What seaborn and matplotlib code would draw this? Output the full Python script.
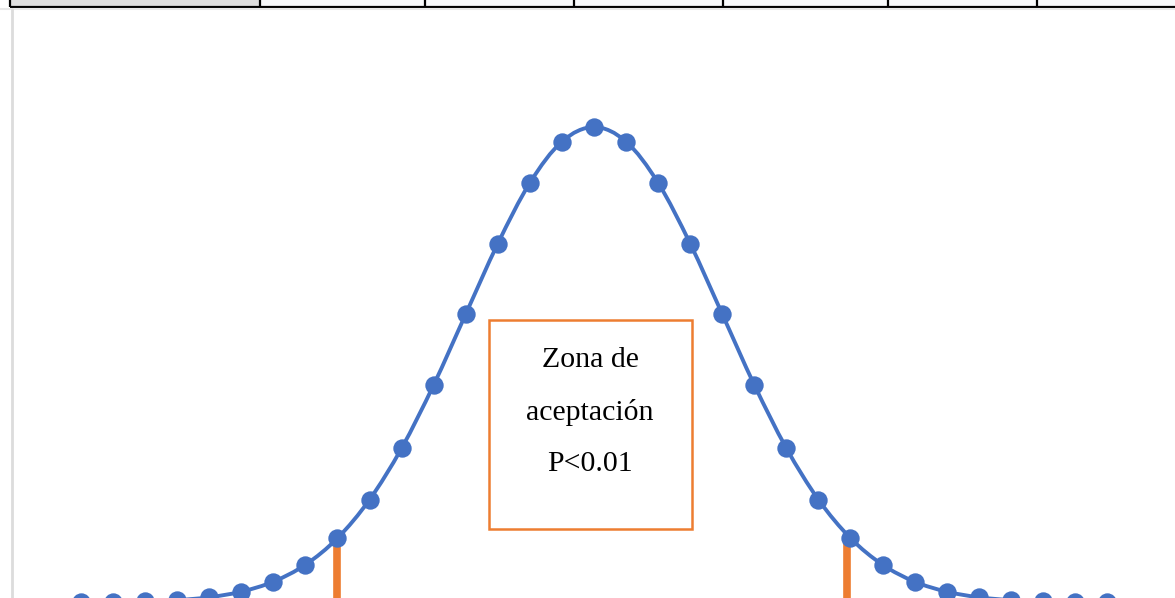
import matplotlib
matplotlib.use("Agg")
import matplotlib.pyplot as plt
import seaborn as sns
import pandas as pd
import numpy as np
from matplotlib.patches import Rectangle, PathPatch
from matplotlib.path import Path

# ---- data ----
z_values = [-4.0, -3.75, -3.5, -3.25, -3.0, -2.75, -2.5, -2.25, -2.0, -1.75, -1.5,
            -1.25, -1.0, -0.75, -0.5, -0.25, 0.0, 0.25, 0.5, 0.75, 1.0, 1.25,
            1.5, 1.75, 2.0, 2.25, 2.5, 2.75, 3.0, 3.25, 3.5, 3.75, 4.0]
density = [0.0001, 0.0004, 0.0009, 0.0020, 0.0044, 0.0091, 0.0175, 0.0317, 0.0540,
           0.0863, 0.1295, 0.1826, 0.2420, 0.3011, 0.3521, 0.3867, 0.3989, 0.3867,
           0.3521, 0.3011, 0.2420, 0.1826, 0.1295, 0.0863, 0.0540, 0.0317, 0.0175,
           0.0091, 0.0044, 0.0020, 0.0009, 0.0004, 0.0001]
critical_x = [-2.0, 1.97]
critical_h = [0.054, 0.054]
box_lines = ["Zona de", "aceptación", "P<0.01"]

# table header cells (pixel edges of the spreadsheet row at the top)
cell_edges = [10, 260, 425, 574, 723, 888, 1037, 1175]

W, H = 1175, 598
fig = plt.figure(figsize=(W / 100, H / 100), dpi=100)
sns.set_style("white")
plt.rcParams["font.family"] = ["Liberation Serif", "DejaVu Serif"]

# background / sheet layer in pixel coordinates
bg = fig.add_axes([0, 0, 1, 1])
bg.set_xlim(0, W)
bg.set_ylim(H, 0)
bg.axis("off")
for i in range(len(cell_edges) - 1):
    fc = "#dedede" if i == 0 else "#f8f9fb"
    bg.add_patch(Rectangle((cell_edges[i], 0), cell_edges[i + 1] - cell_edges[i], 7,
                           facecolor=fc, edgecolor="none"))
for e in cell_edges[:-1]:
    bg.plot([e, e], [0, 7], color="black", lw=1.6, solid_capstyle="butt")
bg.plot([10, W], [7.2, 7.2], color="black", lw=1.6, solid_capstyle="butt")
bg.plot([0, W], [9.0, 9.0], color="#e8e8e8", lw=1.5)
bg.plot([11.5, 11.5], [9, H], color="#dcdcdc", lw=2)

# main chart axes
ax = fig.add_axes([0, 0, 1, 1])
ax.patch.set_alpha(0)

# smoothed connecting line (spreadsheet-style smooth line through the data points)
P = np.column_stack([z_values, density])
verts = [tuple(P[0])]
codes = [Path.MOVETO]
n = len(P)
for i in range(n - 1):
    p0 = P[i - 1] if i > 0 else P[i]
    p1, p2 = P[i], P[i + 1]
    p3 = P[i + 2] if i + 2 < n else P[i + 1]
    c1 = p1 + (p2 - p0) / 6.0
    c2 = p2 - (p3 - p1) / 6.0
    verts += [tuple(c1), tuple(c2), tuple(p2)]
    codes += [Path.CURVE4] * 3
ax.add_patch(PathPatch(Path(verts, codes), facecolor="none", edgecolor="#4472C4",
                       linewidth=2.8, zorder=3))

df = pd.DataFrame({"z": z_values, "d": density})
sns.scatterplot(data=df, x="z", y="d", ax=ax, color="#4472C4", s=175,
                linewidth=0, zorder=4)
ax.vlines(critical_x, 0, critical_h, color="#ED7D31", linewidth=5.5, zorder=2)

px = 128.25
ax.set_xlim(-4 - 81 / px, 4 + 68 / px)
ax.set_ylim(0.00378, 0.5055)
ax.axis("off")

# text box
def py2d(p):
    return (602.5 - p) / 1192.0

bx0, bx1 = (489 - 594) / px, (692 - 594) / px
ax.add_patch(Rectangle((bx0, py2d(529)), bx1 - bx0, py2d(320) - py2d(529),
                       facecolor="white", edgecolor="#ED7D31", linewidth=1.8, zorder=5))
for line, ypix in zip(box_lines, [360, 412, 464]):
    ax.text((590 - 594) / px, py2d(ypix), line, ha="center", va="center",
            fontsize=21.5, color="black", zorder=6)

fig.savefig("out.png", dpi=100)
